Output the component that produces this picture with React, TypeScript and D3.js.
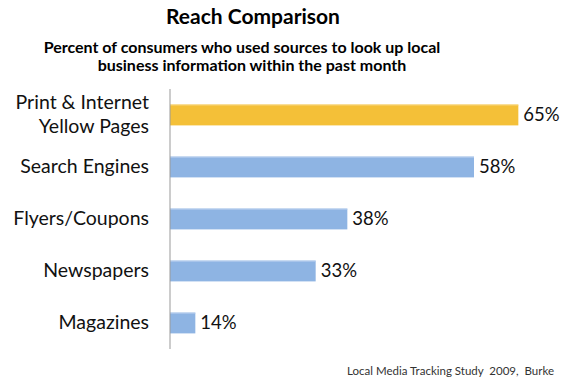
import React from "react";
import * as d3 from "d3";

const categories = ["Print & Internet\nYellow Pages", "Search Engines", "Flyers/Coupons", "Newspapers", "Magazines"];
const values = [65, 58, 38, 33, 14];
const highlight = [true, false, false, false, false];
const title = "Reach Comparison";
const subtitleLines = ["Percent of consumers who used sources to look up local", "business information within the past month"];
const source = "Local Media Tracking Study  2009,  Burke";

const W = 587;
const H = 387;
const FONT = "Lato, 'Open Sans', sans-serif";

export default function App() {
  const x = d3.scaleLinear().domain([10, 70]).range([170, 550]);
  const y = d3.scaleBand<string>().domain(categories).range([89, 349]).paddingInner(0.6).paddingOuter(0.3);
  return (
    <svg width={W} height={H} style={{ position: "absolute", left: 0, top: 0, background: "#fff" }} fontFamily={FONT}>
      <text x={253} y={24} textAnchor="middle" fontSize={21} fontWeight={700} fill="#000">{title}</text>
      {subtitleLines.map((l, i) => (
        <text key={i} x={i === 0 ? 242 : 252} y={53 + i * 18} textAnchor="middle" fontSize={16} fontWeight={700} fill="#000">{l}</text>
      ))}
      {categories.map((c, i) => {
        const yy = y(c)!;
        const cy = yy + y.bandwidth() / 2;
        const lines = c.split("\n");
        const fill = highlight[i] ? "#F4C038" : "#8EB4E3";
        return (
          <g key={c}>
            <rect x={x(10)} y={yy} width={x(values[i]) - x(10)} height={y.bandwidth()} fill={fill} />
            <rect x={x(10)} y={yy} width={x(values[i]) - x(10)} height={1} fill={highlight[i] ? "#F7D274" : "#B9D0EE"} />
            <text x={x(values[i]) + 5} y={cy + 6} fontSize={18.5} fill="#111">{values[i]}%</text>
            {lines.map((l, j) => (
              <text key={j} x={149} y={cy + 6 + (j - (lines.length - 1) / 2) * 24} textAnchor="end" fontSize={19.5} fill="#111">{l}</text>
            ))}
          </g>
        );
      })}
      <line x1={170} x2={170} y1={89} y2={349} stroke="#999" strokeWidth={1} />
      <text x={554} y={375} textAnchor="end" fontSize={11.5} fill="#333" style={{ whiteSpace: "pre" }}>{source}</text>
    </svg>
  );
}
